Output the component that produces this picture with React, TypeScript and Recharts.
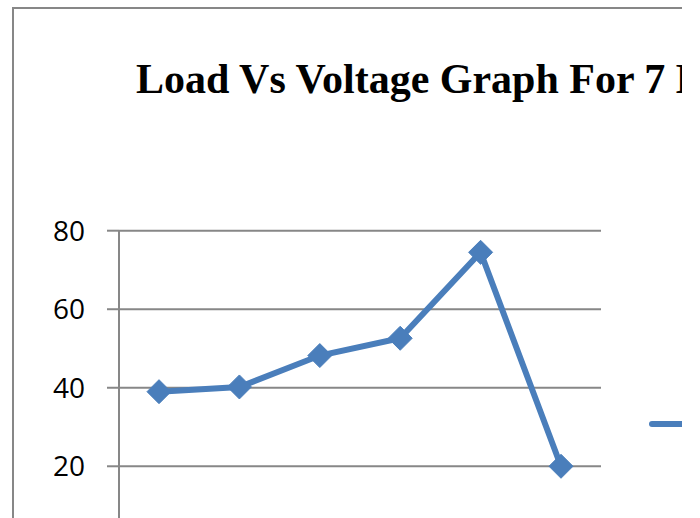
import { LineChart, Line, XAxis, YAxis, CartesianGrid, Legend } from "recharts";

const loads = ["1", "2", "3", "4", "5", "6"];
const voltage = [39, 40.2, 48.2, 52.6, 74.5, 20];
const yTicks = [0, 20, 40, 60, 80];

const data = loads.map((load, i) => ({ load, voltage: voltage[i] }));

const BLUE = "#4a7ebb";
const GRID = "#878787";

const Diamond = (props: any) => {
  const { cx, cy, index } = props;
  if (cx == null || cy == null) return null;
  const r = 12;
  return (
    <path
      key={`d-${index}`}
      d={`M${cx},${cy - r}L${cx + r},${cy}L${cx},${cy + r}L${cx - r},${cy}Z`}
      fill={BLUE}
      stroke={BLUE}
      strokeWidth={1}
    />
  );
};

const LegendContent = () => (
  <svg width={160} height={30} style={{ display: "block" }}>
    <line x1={3} y1={15} x2={85} y2={15} stroke={BLUE} strokeWidth={6} strokeLinecap="round" />
    <path d="M44,3L56,15L44,27L32,15Z" fill={BLUE} />
    <text x={94} y={24} fontSize={28} fontFamily="Open Sans, sans-serif" fill="#000">
      Voltage
    </text>
  </svg>
);

export default function App() {
  return (
    <div
      style={{
        position: "fixed",
        left: 0,
        top: 0,
        width: 700,
        height: 518,
        overflow: "hidden",
        background: "#fff",
      }}
    >
      <div style={{ position: "absolute", left: 0, top: 0, width: 682, height: 518, overflow: "hidden" }}>
        <div
          style={{
            position: "absolute",
            left: 12,
            top: 7,
            width: 800,
            height: 600,
            border: `2px solid ${GRID}`,
          }}
        >
          <LineChart width={800} height={600} data={data} margin={{ top: 221.7, right: 213, left: 0, bottom: 34.2 }}>
            <text
              x={122}
              y={84}
              fontFamily="Liberation Serif, Times New Roman, serif"
              fontWeight="bold"
              fontSize={42}
              fill="#000"
            >
              Load Vs Voltage Graph For 7 Blades
            </text>
            <CartesianGrid stroke={GRID} strokeWidth={2} vertical={false} />
            <XAxis
              dataKey="load"
              padding={{ left: 40, right: 40 }}
              axisLine={{ stroke: GRID, strokeWidth: 2 }}
              tickLine={{ stroke: GRID, strokeWidth: 2 }}
              tick={{ fill: "#000", fontSize: 28, fontFamily: "Open Sans, sans-serif" }}
            />
            <YAxis
              width={105}
              domain={[0, 80]}
              ticks={yTicks}
              axisLine={{ stroke: GRID, strokeWidth: 2 }}
              tickLine={{ stroke: GRID, strokeWidth: 2 }}
              tickSize={12}
              tickMargin={22}
              tick={{ fill: "#000", fontSize: 28, fontFamily: "Open Sans, sans-serif" }}
            />
            <Legend
              layout="horizontal"
              align="center"
              verticalAlign="middle"
              content={<LegendContent />}
              wrapperStyle={{ left: 635, top: 400, width: 160, height: 30 }}
            />
            <Line
              type="linear"
              dataKey="voltage"
              name="Voltage"
              stroke={BLUE}
              strokeWidth={6}
              dot={Diamond}
              activeDot={false}
              isAnimationActive={false}
            />
          </LineChart>
        </div>
      </div>
    </div>
  );
}
